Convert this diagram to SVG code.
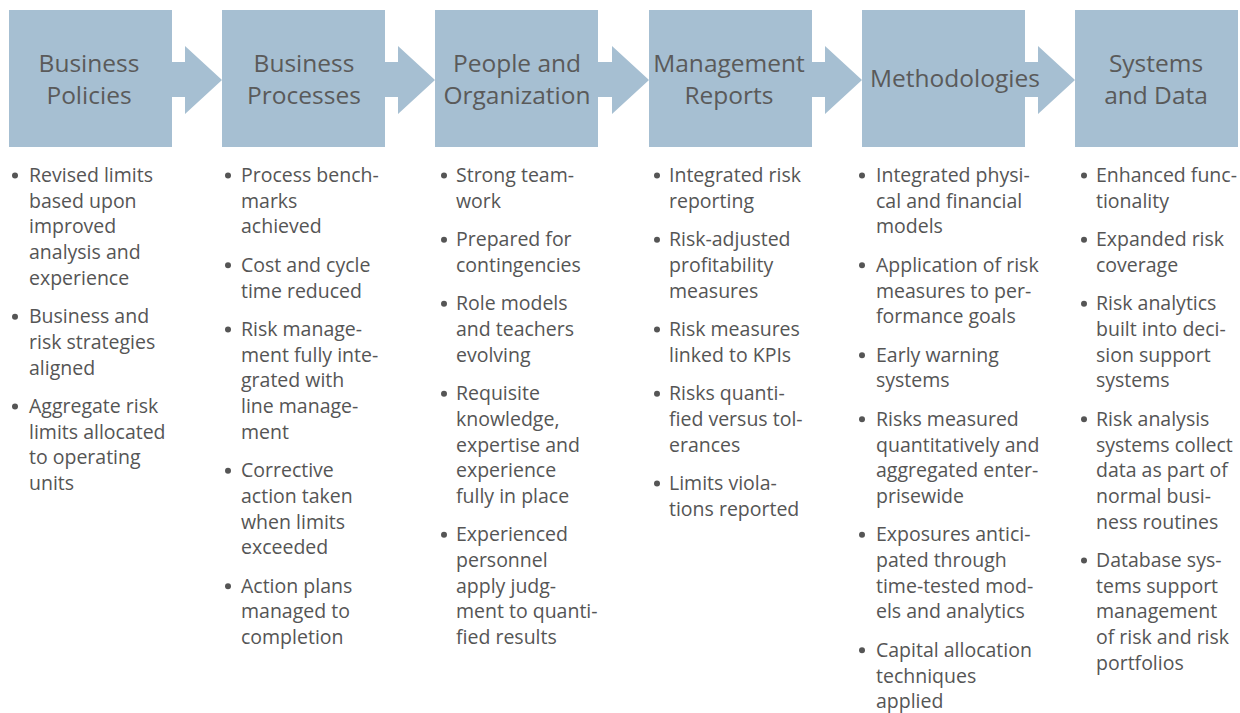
<svg xmlns="http://www.w3.org/2000/svg" width="1240" height="713" viewBox="0 0 1240 713">
<style>
.box{fill:#a6bfd2}
.arrow{fill:#a6bfd2}
.title{font-family:"Open Sans","Liberation Sans",sans-serif;font-size:24.5px;fill:#5a5a5a;text-anchor:middle}
.body{font-family:"Open Sans","Liberation Sans",sans-serif;font-size:19.5px;fill:#555555}
.dot{fill:#555555}
</style>
<rect width="1240" height="713" fill="#ffffff"/>
<g id="connectors">
<polygon class="arrow" points="171,62 185,62 185,46 222,80 185,114 185,97 171,97"/>
<polygon class="arrow" points="384,62 398,62 398,46 435,80 398,114 398,97 384,97"/>
<polygon class="arrow" points="597,62 612,62 612,46 649,80 612,114 612,97 597,97"/>
<polygon class="arrow" points="811,62 825,62 825,46 862,80 825,114 825,97 811,97"/>
<polygon class="arrow" points="1024,62 1038,62 1038,46 1075,80 1038,114 1038,97 1024,97"/>
</g>
<g id="node-business-policies">
<rect class="box" x="9" y="10" width="163" height="137"/>
<text class="title" x="89" y="72">Business</text>
<text class="title" x="89" y="104">Policies</text>
<circle class="dot" cx="15" cy="175.5" r="3"/>
<text class="body" y="182"><tspan x="29">Revised limits</tspan><tspan x="29" dy="25.67">based upon</tspan><tspan x="29" dy="25.67">improved</tspan><tspan x="29" dy="25.67">analysis and</tspan><tspan x="29" dy="25.67">experience</tspan></text>
<circle class="dot" cx="15" cy="316.7" r="3"/>
<text class="body" y="323.17"><tspan x="29">Business and</tspan><tspan x="29" dy="25.67">risk strategies</tspan><tspan x="29" dy="25.67">aligned</tspan></text>
<circle class="dot" cx="15" cy="406.5" r="3"/>
<text class="body" y="413"><tspan x="29">Aggregate risk</tspan><tspan x="29" dy="25.67">limits allocated</tspan><tspan x="29" dy="25.67">to operating</tspan><tspan x="29" dy="25.67">units</tspan></text>
</g>
<g id="node-business-processes">
<rect class="box" x="222" y="10" width="163" height="137"/>
<text class="title" x="304" y="72">Business</text>
<text class="title" x="304" y="104">Processes</text>
<circle class="dot" cx="228" cy="175.5" r="3"/>
<text class="body" y="182"><tspan x="241">Process bench-</tspan><tspan x="241" dy="25.67">marks</tspan><tspan x="241" dy="25.67">achieved</tspan></text>
<circle class="dot" cx="228" cy="265.3" r="3"/>
<text class="body" y="271.83"><tspan x="241">Cost and cycle</tspan><tspan x="241" dy="25.67">time reduced</tspan></text>
<circle class="dot" cx="228" cy="329.5" r="3"/>
<text class="body" y="336"><tspan x="241">Risk manage-</tspan><tspan x="241" dy="25.67">ment fully inte-</tspan><tspan x="241" dy="25.67">grated with</tspan><tspan x="241" dy="25.67">line manage-</tspan><tspan x="241" dy="25.67">ment</tspan></text>
<circle class="dot" cx="228" cy="470.7" r="3"/>
<text class="body" y="477.17"><tspan x="241">Corrective</tspan><tspan x="241" dy="25.67">action taken</tspan><tspan x="241" dy="25.67">when limits</tspan><tspan x="241" dy="25.67">exceeded</tspan></text>
<circle class="dot" cx="228" cy="586.2" r="3"/>
<text class="body" y="592.67"><tspan x="241">Action plans</tspan><tspan x="241" dy="25.67">managed to</tspan><tspan x="241" dy="25.67">completion</tspan></text>
</g>
<g id="node-people-and-organization">
<rect class="box" x="435" y="10" width="163" height="137"/>
<text class="title" x="517" y="72">People and</text>
<text class="title" x="517" y="104">Organization</text>
<circle class="dot" cx="444" cy="175.5" r="3"/>
<text class="body" y="182"><tspan x="456">Strong team-</tspan><tspan x="456" dy="25.67">work</tspan></text>
<circle class="dot" cx="444" cy="239.7" r="3"/>
<text class="body" y="246.17"><tspan x="456">Prepared for</tspan><tspan x="456" dy="25.67">contingencies</tspan></text>
<circle class="dot" cx="444" cy="303.8" r="3"/>
<text class="body" y="310.33"><tspan x="456">Role models</tspan><tspan x="456" dy="25.67">and teachers</tspan><tspan x="456" dy="25.67">evolving</tspan></text>
<circle class="dot" cx="444" cy="393.7" r="3"/>
<text class="body" y="400.17"><tspan x="456">Requisite</tspan><tspan x="456" dy="25.67">knowledge,</tspan><tspan x="456" dy="25.67">expertise and</tspan><tspan x="456" dy="25.67">experience</tspan><tspan x="456" dy="25.67">fully in place</tspan></text>
<circle class="dot" cx="444" cy="534.8" r="3"/>
<text class="body" y="541.33"><tspan x="456">Experienced</tspan><tspan x="456" dy="25.67">personnel</tspan><tspan x="456" dy="25.67">apply judg-</tspan><tspan x="456" dy="25.67">ment to quanti-</tspan><tspan x="456" dy="25.67">fied results</tspan></text>
</g>
<g id="node-management-reports">
<rect class="box" x="649" y="10" width="163" height="137"/>
<text class="title" x="729" y="72">Management</text>
<text class="title" x="729" y="104">Reports</text>
<circle class="dot" cx="657" cy="175.5" r="3"/>
<text class="body" y="182"><tspan x="669">Integrated risk</tspan><tspan x="669" dy="25.67">reporting</tspan></text>
<circle class="dot" cx="657" cy="239.7" r="3"/>
<text class="body" y="246.17"><tspan x="669">Risk-adjusted</tspan><tspan x="669" dy="25.67">profitability</tspan><tspan x="669" dy="25.67">measures</tspan></text>
<circle class="dot" cx="657" cy="329.5" r="3"/>
<text class="body" y="336"><tspan x="669">Risk measures</tspan><tspan x="669" dy="25.67">linked to KPIs</tspan></text>
<circle class="dot" cx="657" cy="393.7" r="3"/>
<text class="body" y="400.17"><tspan x="669">Risks quanti-</tspan><tspan x="669" dy="25.67">fied versus tol-</tspan><tspan x="669" dy="25.67">erances</tspan></text>
<circle class="dot" cx="657" cy="483.5" r="3"/>
<text class="body" y="490"><tspan x="669">Limits viola-</tspan><tspan x="669" dy="25.67">tions reported</tspan></text>
</g>
<g id="node-methodologies">
<rect class="box" x="862" y="10" width="163" height="137"/>
<text class="title" x="955" y="87">Methodologies</text>
<circle class="dot" cx="862" cy="175.5" r="3"/>
<text class="body" y="182"><tspan x="876">Integrated physi-</tspan><tspan x="876" dy="25.67">cal and financial</tspan><tspan x="876" dy="25.67">models</tspan></text>
<circle class="dot" cx="862" cy="265.3" r="3"/>
<text class="body" y="271.83"><tspan x="876">Application of risk</tspan><tspan x="876" dy="25.67">measures to per-</tspan><tspan x="876" dy="25.67">formance goals</tspan></text>
<circle class="dot" cx="862" cy="355.2" r="3"/>
<text class="body" y="361.67"><tspan x="876">Early warning</tspan><tspan x="876" dy="25.67">systems</tspan></text>
<circle class="dot" cx="862" cy="419.3" r="3"/>
<text class="body" y="425.83"><tspan x="876">Risks measured</tspan><tspan x="876" dy="25.67">quantitatively and</tspan><tspan x="876" dy="25.67">aggregated enter-</tspan><tspan x="876" dy="25.67">prisewide</tspan></text>
<circle class="dot" cx="862" cy="534.8" r="3"/>
<text class="body" y="541.33"><tspan x="876">Exposures antici-</tspan><tspan x="876" dy="25.67">pated through</tspan><tspan x="876" dy="25.67">time-tested mod-</tspan><tspan x="876" dy="25.67">els and analytics</tspan></text>
<circle class="dot" cx="862" cy="650.3" r="3"/>
<text class="body" y="656.83"><tspan x="876">Capital allocation</tspan><tspan x="876" dy="25.67">techniques</tspan><tspan x="876" dy="25.67">applied</tspan></text>
</g>
<g id="node-systems-and-data">
<rect class="box" x="1075" y="10" width="163" height="137"/>
<text class="title" x="1156" y="72">Systems</text>
<text class="title" x="1156" y="104">and Data</text>
<circle class="dot" cx="1084" cy="175.5" r="3"/>
<text class="body" y="182"><tspan x="1096">Enhanced func-</tspan><tspan x="1096" dy="25.67">tionality</tspan></text>
<circle class="dot" cx="1084" cy="239.7" r="3"/>
<text class="body" y="246.17"><tspan x="1096">Expanded risk</tspan><tspan x="1096" dy="25.67">coverage</tspan></text>
<circle class="dot" cx="1084" cy="303.8" r="3"/>
<text class="body" y="310.33"><tspan x="1096">Risk analytics</tspan><tspan x="1096" dy="25.67">built into deci-</tspan><tspan x="1096" dy="25.67">sion support</tspan><tspan x="1096" dy="25.67">systems</tspan></text>
<circle class="dot" cx="1084" cy="419.3" r="3"/>
<text class="body" y="425.83"><tspan x="1096">Risk analysis</tspan><tspan x="1096" dy="25.67">systems collect</tspan><tspan x="1096" dy="25.67">data as part of</tspan><tspan x="1096" dy="25.67">normal busi-</tspan><tspan x="1096" dy="25.67">ness routines</tspan></text>
<circle class="dot" cx="1084" cy="560.5" r="3"/>
<text class="body" y="567"><tspan x="1096">Database sys-</tspan><tspan x="1096" dy="25.67">tems support</tspan><tspan x="1096" dy="25.67">management</tspan><tspan x="1096" dy="25.67">of risk and risk</tspan><tspan x="1096" dy="25.67">portfolios</tspan></text>
</g>
</svg>
